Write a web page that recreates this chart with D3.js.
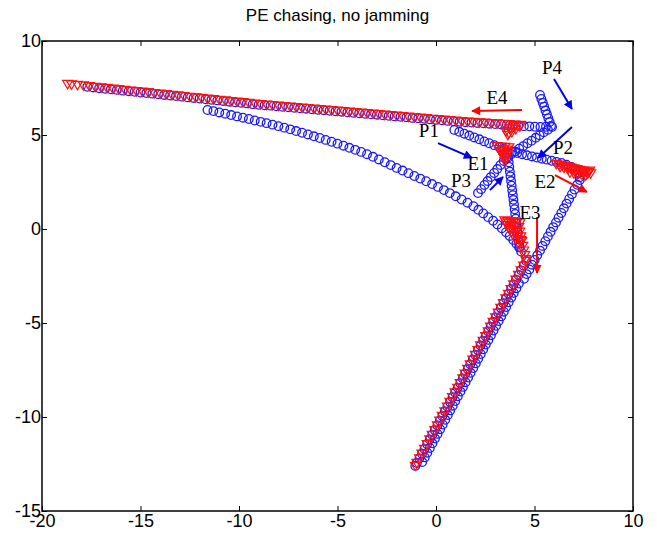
<!DOCTYPE html>
<html>
<head>
<meta charset="utf-8">
<script src="https://cdn.jsdelivr.net/npm/d3@7"></script>
<style>
  body { margin: 0; background: #fff; }
  .tick text { font-family: "Liberation Sans", Arial, sans-serif; font-size: 18px; fill: #000; }
  .tick line { stroke: #000; stroke-width: 1; }
</style>
</head>
<body>
<svg width="657" height="537"></svg>
<script>
// axis ticks
const xTicks = [-20, -15, -10, -5, 0, 5, 10];
const yTicks = [-15, -10, -5, 0, 5, 10];

// pursuer tracks (blue circles)
const p4Track = [[5.28,7.13],[5.35,6.92],[5.42,6.71],[5.49,6.51],[5.56,6.30],[5.63,6.10],[5.70,5.89],[5.77,5.69],[5.84,5.48],
  [5.58,5.44],[5.30,5.43],[5.02,5.44],[4.74,5.46],[4.46,5.47],[4.18,5.49],
  [3.9,5.52],[3.6,5.54],[3.3,5.56],[3.0,5.58],[2.7,5.60],[2.4,5.62],[2.1,5.64],[1.8,5.66],[1.5,5.68],[1.2,5.70],
  [0.9,5.73],[0.6,5.75],[0.3,5.78],[0.0,5.81],[-0.3,5.83],[-0.6,5.86],[-0.9,5.89],[-1.2,5.91],[-1.5,5.94],[-1.8,5.97],
  [-2.1,5.99],[-2.4,6.02],[-2.7,6.05],[-3.0,6.08],[-3.3,6.10],[-3.6,6.13],[-3.9,6.16],[-4.2,6.18],[-4.5,6.21],[-4.8,6.24],
  [-5.1,6.26],[-5.4,6.29],[-5.7,6.32],[-6.0,6.34],[-6.3,6.37],[-6.6,6.40],[-6.9,6.42],[-7.2,6.45],[-7.5,6.48],[-7.8,6.50],
  [-8.1,6.53],[-8.4,6.56],[-8.7,6.58],[-9.0,6.61],[-9.3,6.64],[-9.6,6.68],[-9.9,6.71],[-10.2,6.74],[-10.5,6.77],[-10.8,6.81],
  [-11.1,6.84],[-11.4,6.87],[-11.7,6.90],[-12.0,6.94],[-12.3,6.97],[-12.6,7.00],[-12.9,7.04],[-13.2,7.07],[-13.5,7.10],
  [-13.8,7.13],[-14.1,7.17],[-14.4,7.20],[-14.7,7.23],[-15.0,7.26],[-15.3,7.30],[-15.6,7.33],[-15.9,7.36],[-16.2,7.40],
  [-16.5,7.43],[-16.8,7.46],[-17.1,7.49],[-17.4,7.53],[-17.7,7.56]];

const curveTrack = [[-11.6,6.33],[-11.3,6.27],[-11.0,6.20],[-10.7,6.13],[-10.4,6.06],[-10.1,5.99],[-9.8,5.92],[-9.5,5.85],
  [-9.2,5.77],[-8.9,5.70],[-8.6,5.63],[-8.3,5.55],[-8.0,5.47],[-7.7,5.39],[-7.4,5.30],[-7.1,5.21],[-6.8,5.12],[-6.5,5.03],
  [-6.2,4.93],[-5.9,4.84],[-5.6,4.74],[-5.3,4.64],[-5.0,4.54],[-4.7,4.43],[-4.4,4.32],[-4.1,4.21],[-3.8,4.10],[-3.5,3.98],
  [-3.2,3.84],[-2.9,3.70],[-2.6,3.55],[-2.3,3.40],[-2.0,3.25],[-1.7,3.11],[-1.4,2.97],[-1.1,2.82],[-0.8,2.68],[-0.5,2.54],
  [-0.2,2.39],[0.1,2.24],[0.4,2.07],[0.7,1.91],[1.0,1.74],[1.3,1.57],[1.6,1.40],[1.9,1.21],[2.15,1.02],[2.4,0.83],
  [2.65,0.63],[2.9,0.44],[3.12,0.24],[3.34,0.04],[3.55,-0.17],[3.74,-0.37],[3.92,-0.58],[4.08,-0.78],[4.22,-0.98]];

const p1Track = [[0.93,5.27],[1.18,5.17],[1.44,5.07],[1.69,4.97],[1.94,4.87],[2.20,4.77],[2.45,4.66],[2.70,4.56],
  [2.96,4.46],[3.21,4.36],[3.46,4.26],
  [3.62,4.05],[3.66,3.80],[3.69,3.55],[3.72,3.30],[3.75,3.05],[3.78,2.80],[3.81,2.55],[3.84,2.30],[3.87,2.05],
  [3.90,1.80],[3.93,1.55],[3.96,1.30],[3.99,1.05],[4.02,0.80],[4.05,0.55],[4.08,0.30],[4.11,0.05],[4.14,-0.20],
  [4.17,-0.45],[4.20,-0.70],[4.25,-0.95],[4.32,-1.20]];

const p3Track = [[2.13,1.91],[2.29,2.12],[2.46,2.34],[2.62,2.55],[2.78,2.76],[2.95,2.98],[3.11,3.19],[3.27,3.40],
  [3.44,3.62],[3.60,3.83],[3.81,3.98],[4.02,4.12],[4.22,4.27],[4.43,4.41],[4.64,4.56],[4.85,4.70],[5.06,4.85],
  [5.26,4.99],[5.47,5.14],[5.68,5.28],[5.89,5.43]];

const p2Track = [[3.87,4.10],[4.12,4.04],[4.37,3.98],[4.62,3.92],[4.87,3.86],[5.12,3.80],[5.37,3.74],[5.62,3.69],
  [5.87,3.63],[6.12,3.57],[6.37,3.51],[6.62,3.42],[6.87,3.30],[7.07,3.15],[7.22,2.95],[7.30,2.75],
  [7.30,2.60],[7.17,2.35],[7.03,2.10],[6.90,1.85],[6.76,1.60],[6.63,1.35],[6.49,1.10],[6.36,0.85],[6.22,0.60],
  [6.09,0.35],[5.95,0.10],[5.82,-0.15],[5.68,-0.40],[5.55,-0.65],[5.41,-0.90],[5.28,-1.15],[5.14,-1.40],[5.01,-1.65],
  [4.87,-1.90],[4.74,-2.15],[4.60,-2.40],[4.47,-2.65],
  [4.21,-2.90],[4.08,-3.15],[3.95,-3.40],[3.82,-3.65],[3.69,-3.90],[3.56,-4.15],[3.44,-4.40],[3.31,-4.65],[3.18,-4.90],
  [3.05,-5.15],[2.92,-5.40],[2.79,-5.65],[2.66,-5.90],[2.53,-6.15],[2.40,-6.40],[2.27,-6.65],[2.14,-6.90],[2.02,-7.15],
  [1.89,-7.40],[1.76,-7.65],[1.63,-7.90],[1.50,-8.15],[1.37,-8.40],[1.24,-8.65],[1.11,-8.90],[0.98,-9.15],[0.85,-9.40],
  [0.72,-9.65],[0.60,-9.90],[0.47,-10.15],[0.34,-10.40],[0.21,-10.65],[0.08,-10.90],[-0.05,-11.15],[-0.18,-11.40],
  [-0.31,-11.65],[-0.44,-11.90],[-0.57,-12.15],[-0.70,-12.40]];

// shared straight run down to the lower left (chased and chaser overlap)
const bottomLine = [[4.58,-1.70],[4.45,-1.95],[4.32,-2.20],[4.19,-2.45],[4.06,-2.70],[3.94,-2.95],[3.81,-3.20],
  [3.68,-3.45],[3.55,-3.70],[3.42,-3.95],[3.29,-4.20],[3.16,-4.45],[3.03,-4.70],[2.90,-4.95],[2.77,-5.20],[2.65,-5.45],
  [2.52,-5.70],[2.39,-5.95],[2.26,-6.20],[2.13,-6.45],[2.00,-6.70],[1.87,-6.95],[1.74,-7.20],[1.61,-7.45],[1.48,-7.70],
  [1.36,-7.95],[1.23,-8.20],[1.10,-8.45],[0.97,-8.70],[0.84,-8.95],[0.71,-9.20],[0.58,-9.45],[0.45,-9.70],[0.32,-9.95],
  [0.19,-10.20],[0.07,-10.45],[-0.06,-10.70],[-0.19,-10.95],[-0.32,-11.20],[-0.45,-11.45],[-0.58,-11.70],
  [-0.71,-11.95],[-0.84,-12.20],[-0.97,-12.45],[-1.05,-12.60]];

// evader tracks (red triangles)
const e4Track = [[4.25,5.45],[4.05,5.30],[3.85,5.15],[3.65,5.00],[3.55,5.20],[3.75,5.35],[3.95,5.45],[3.7,5.10],
  [4.3,5.53],[4.0,5.55],[3.7,5.57],[3.4,5.59],[3.1,5.61],[2.8,5.63],[2.5,5.65],[2.2,5.67],[1.9,5.69],[1.6,5.71],
  [1.3,5.73],[1.0,5.76],[0.7,5.78],[0.4,5.81],[0.1,5.84],[-0.2,5.86],[-0.5,5.89],[-0.8,5.92],[-1.1,5.94],[-1.4,5.97],
  [-1.7,6.00],[-2.0,6.02],[-2.3,6.05],[-2.6,6.08],[-2.9,6.10],[-3.2,6.13],[-3.5,6.16],[-3.8,6.19],[-4.1,6.21],
  [-4.4,6.24],[-4.7,6.27],[-5.0,6.29],[-5.3,6.32],[-5.6,6.35],[-5.9,6.37],[-6.2,6.40],[-6.5,6.43],[-6.8,6.45],
  [-7.1,6.48],[-7.4,6.51],[-7.7,6.53],[-8.0,6.56],[-8.3,6.59],[-8.6,6.61],[-8.9,6.64],[-9.2,6.67],[-9.5,6.70],
  [-9.8,6.74],[-10.1,6.77],[-10.4,6.80],[-10.7,6.84],[-11.0,6.87],[-11.3,6.90],[-11.6,6.93],[-11.9,6.97],[-12.2,7.00],
  [-12.5,7.03],[-12.8,7.07],[-13.1,7.10],[-13.4,7.13],[-13.7,7.17],[-14.0,7.20],[-14.3,7.23],[-14.6,7.27],[-14.9,7.30],
  [-15.2,7.33],[-15.5,7.36],[-15.8,7.40],[-16.1,7.43],[-16.4,7.46],[-16.7,7.50],[-17.0,7.53],[-17.3,7.56],[-17.6,7.60],
  [-17.9,7.63],[-18.2,7.66],[-18.5,7.69],[-18.7,7.71]];

const e1Track = [[3.1,4.40],[3.3,4.38],[3.5,4.36],[3.7,4.34],[3.2,4.25],[3.6,4.22],[3.25,4.15],[3.45,4.12],
  [3.65,4.10],[3.35,4.00],[3.6,3.95],[3.4,3.90],[3.45,3.80],[3.55,3.75],[3.5,3.60]];

const e2Track = [[6.1,3.46],[6.25,3.42],[6.4,3.38],[6.55,3.34],[6.7,3.30],[6.85,3.26],[7.0,3.22],[7.15,3.18],
  [7.3,3.14],[7.45,3.10],[7.6,3.06],[7.75,3.02],[6.3,3.30],[6.5,3.25],[6.7,3.20],[6.9,3.15],[7.1,3.10],[7.3,3.05],
  [7.5,3.00],[7.7,2.95],[7.8,3.10],[7.85,2.95],[6.8,3.00],[7.0,2.95],[7.2,2.90],[7.4,2.88],[7.6,2.85]];

const e3Track = [[3.5,0.45],[3.65,0.42],[3.8,0.40],[3.95,0.38],[4.1,0.36],[4.25,0.30],[4.2,0.10],[4.25,-0.15],
  [4.3,-0.40],[4.35,-0.65],[4.4,-0.90],[4.45,-1.15],[4.5,-1.40],[4.55,-1.60],[3.6,0.20],[3.75,-0.05],[3.9,-0.30],
  [4.05,-0.55],[4.2,-0.80],[3.55,0.35],[3.7,0.30],[3.85,0.20],[4.0,0.15],[4.1,-0.10],[3.95,-0.15],[4.15,-0.40],
  [4.3,-0.60]];

// annotations
const labels = [
  { text: "P4", x: 5.89, y: 8.62 }, { text: "E4", x: 3.10, y: 7.02 },
  { text: "P1", x: -0.36, y: 5.27 }, { text: "E1", x: 2.13, y: 3.51 },
  { text: "P2", x: 6.45, y: 4.36 }, { text: "P3", x: 1.27, y: 2.61 },
  { text: "E2", x: 5.53, y: 2.55 }, { text: "E3", x: 4.77, y: 0.90 }
];
const arrows = [
  { x1: 5.99, y1: 7.98, x2: 6.90, y2: 6.38, c: "blue" },
  { x1: 4.37, y1: 6.33, x2: 1.83, y2: 6.28, c: "red" },
  { x1: 0.10, y1: 4.57, x2: 1.83, y2: 3.78, c: "blue" },
  { x1: 6.90, y1: 5.43, x2: 5.18, y2: 3.78, c: "blue" },
  { x1: 2.74, y1: 2.07, x2: 3.40, y2: 2.77, c: "blue" },
  { x1: 6.04, y1: 2.87, x2: 7.66, y2: 1.97, c: "red" },
  { x1: 5.13, y1: 0.64, x2: 5.13, y2: -2.34, c: "red" }
];

const svg = d3.select("svg");
const x = d3.scaleLinear().domain([-20, 10]).range([42, 633]);
const y = d3.scaleLinear().domain([-15, 10]).range([511, 41]);

svg.append("rect").attr("width", 657).attr("height", 537).attr("fill", "#fff");

// title
svg.append("text")
  .attr("x", (x(-20) + x(10)) / 2).attr("y", 21)
  .attr("text-anchor", "middle")
  .style("font-family", "Liberation Sans, Arial, sans-serif")
  .style("font-size", "17px")
  .text("PE chasing, no jamming");

// pursuers first, evaders on top
const blue = "#1a1aff", red = "#ff1010";
const blueSets = [p4Track, curveTrack, p1Track, bottomLine, p3Track, p2Track];
const redSets = [e4Track, e1Track, e2Track, e3Track, bottomLine];

const marks = svg.append("g");
blueSets.forEach(set => {
  marks.append("g").selectAll("circle")
    .data(set).enter().append("circle")
    .attr("cx", d => x(d[0])).attr("cy", d => y(d[1]))
    .attr("r", 4.3)
    .attr("fill", "none").attr("stroke", blue).attr("stroke-width", 1.3);
});
redSets.forEach(set => {
  marks.append("g").selectAll("path")
    .data(set).enter().append("path")
    .attr("transform", d => `translate(${x(d[0])},${y(d[1])})`)
    .attr("d", "M-5,-3.6L5,-3.6L0,4.8Z")
    .attr("fill", "none").attr("stroke", red).attr("stroke-width", 1.2);
});

// arrows
const defs = svg.append("defs");
["blue", "red"].forEach(c => {
  defs.append("marker")
    .attr("id", "head-" + c)
    .attr("viewBox", "0 0 10 10").attr("refX", 9).attr("refY", 5)
    .attr("markerWidth", 12).attr("markerHeight", 9)
    .attr("markerUnits", "userSpaceOnUse")
    .attr("orient", "auto")
    .append("path").attr("d", "M0,0L10,5L0,10Z")
    .attr("fill", c === "blue" ? "#0000ee" : "#ff0000");
});
svg.append("g").selectAll("line")
  .data(arrows).enter().append("line")
  .attr("x1", d => x(d.x1)).attr("y1", d => y(d.y1))
  .attr("x2", d => x(d.x2)).attr("y2", d => y(d.y2))
  .attr("stroke", d => d.c === "blue" ? "#0000ee" : "#ff0000")
  .attr("stroke-width", 2)
  .attr("marker-end", d => `url(#head-${d.c})`);

svg.append("g").selectAll("text")
  .data(labels).enter().append("text")
  .attr("x", d => x(d.x)).attr("y", d => y(d.y))
  .attr("text-anchor", "middle").attr("dy", "0.35em")
  .style("font-family", "Liberation Serif, 'Times New Roman', serif")
  .style("font-size", "19px")
  .text(d => d.text);

// axes, ticks inside on all four sides
const fmt = d => String(d);
const axB = svg.append("g").attr("transform", `translate(0,${y(-15)})`)
  .call(d3.axisBottom(x).tickValues(xTicks).tickSizeInner(-5).tickSizeOuter(0).tickPadding(3).tickFormat(fmt));
const axL = svg.append("g").attr("transform", `translate(${x(-20)},0)`)
  .call(d3.axisLeft(y).tickValues(yTicks).tickSizeInner(-5).tickSizeOuter(0).tickPadding(1).tickFormat(fmt));
const axT = svg.append("g").attr("transform", `translate(0,${y(10)})`)
  .call(d3.axisTop(x).tickValues(xTicks).tickSizeInner(-5).tickSizeOuter(0).tickFormat(""));
const axR = svg.append("g").attr("transform", `translate(${x(10)},0)`)
  .call(d3.axisRight(y).tickValues(yTicks).tickSizeInner(-5).tickSizeOuter(0).tickFormat(""));
[axB, axL, axT, axR].forEach(a => a.select(".domain").remove());

svg.append("rect")
  .attr("x", x(-20)).attr("y", y(10))
  .attr("width", x(10) - x(-20)).attr("height", y(-15) - y(10))
  .attr("fill", "none").attr("stroke", "#000").attr("stroke-width", 1.5);
</script>
</body>
</html>
